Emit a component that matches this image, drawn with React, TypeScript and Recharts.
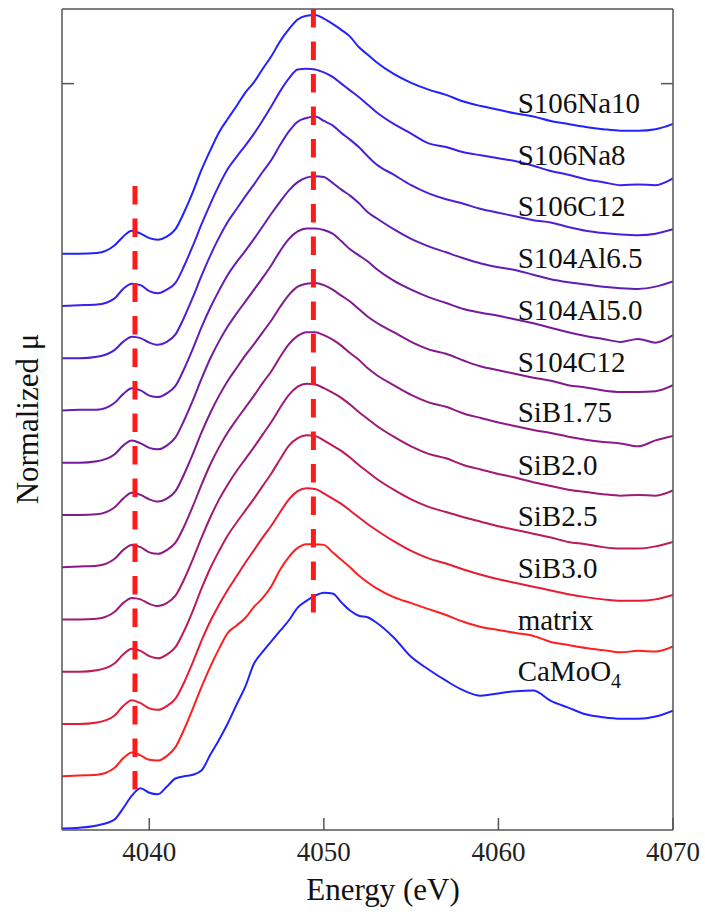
import React from 'react';
import { LineChart, Line, XAxis, YAxis, ReferenceLine, ReferenceDot } from 'recharts';

// Photon energy grid (eV)
const energy = [4035, 4036, 4037, 4038, 4038.5, 4039, 4039.5, 4040, 4040.5, 4041, 4041.5, 4042, 4042.5, 4043, 4043.5, 4044, 4044.5, 4045, 4045.5, 4046, 4046.5, 4047, 4047.5, 4048, 4048.5, 4049, 4049.5, 4050, 4050.5, 4051, 4051.5, 4052, 4052.5, 4053, 4054, 4055, 4056, 4057, 4058, 4059, 4060, 4061, 4062, 4063, 4064, 4065, 4066, 4067, 4068, 4069, 4070];

const sampleNames = ['S106Na10', 'S106Na8', 'S106C12', 'S104Al6.5', 'S104Al5.0', 'S104C12', 'SiB1.75', 'SiB2.0', 'SiB2.5', 'SiB3.0', 'matrix', 'CaMoO4'];

// vertical stacking offsets
const offsets = [7.72, 7.02, 6.32, 5.62, 4.92, 4.22, 3.52, 2.82, 2.12, 1.42, 0.72, 0.02];

const muS106Na10 = [0.00, 0.00, 0.01, 0.11, 0.23, 0.31, 0.27, 0.21, 0.19, 0.23, 0.33, 0.56, 0.83, 1.13, 1.39, 1.63, 1.81, 1.98, 2.16, 2.30, 2.48, 2.65, 2.85, 3.01, 3.14, 3.19, 3.20, 3.15, 3.08, 3.00, 2.91, 2.77, 2.67, 2.57, 2.41, 2.29, 2.20, 2.13, 2.04, 1.98, 1.93, 1.88, 1.84, 1.78, 1.74, 1.70, 1.67, 1.65, 1.65, 1.67, 1.74];
const muS106Na8 = [0.00, 0.01, 0.02, 0.10, 0.23, 0.30, 0.28, 0.20, 0.17, 0.22, 0.31, 0.54, 0.81, 1.10, 1.37, 1.62, 1.84, 2.00, 2.15, 2.31, 2.49, 2.68, 2.88, 3.05, 3.17, 3.18, 3.17, 3.13, 3.07, 2.98, 2.89, 2.80, 2.70, 2.60, 2.44, 2.31, 2.18, 2.13, 2.06, 2.02, 1.98, 1.94, 1.88, 1.81, 1.76, 1.70, 1.66, 1.62, 1.63, 1.62, 1.71];
const muS106C12 = [0.00, 0.00, 0.02, 0.11, 0.22, 0.29, 0.27, 0.21, 0.18, 0.22, 0.32, 0.55, 0.82, 1.11, 1.38, 1.62, 1.83, 2.00, 2.17, 2.33, 2.50, 2.66, 2.86, 3.04, 3.17, 3.22, 3.24, 3.18, 3.12, 3.02, 2.93, 2.83, 2.71, 2.60, 2.46, 2.32, 2.21, 2.13, 2.07, 2.00, 1.95, 1.90, 1.85, 1.82, 1.76, 1.71, 1.68, 1.66, 1.65, 1.67, 1.73];
const muS104Al65 = [0.00, 0.01, 0.01, 0.10, 0.22, 0.30, 0.27, 0.20, 0.18, 0.23, 0.33, 0.56, 0.83, 1.12, 1.38, 1.61, 1.82, 1.99, 2.14, 2.30, 2.47, 2.64, 2.80, 2.95, 3.06, 3.12, 3.14, 3.13, 3.05, 2.96, 2.88, 2.78, 2.66, 2.58, 2.43, 2.30, 2.20, 2.12, 2.04, 1.97, 1.92, 1.88, 1.82, 1.76, 1.72, 1.69, 1.66, 1.64, 1.63, 1.66, 1.73];
const muS104Al50 = [0.00, 0.00, 0.02, 0.11, 0.23, 0.30, 0.26, 0.20, 0.18, 0.23, 0.34, 0.57, 0.84, 1.13, 1.40, 1.63, 1.83, 2.00, 2.16, 2.32, 2.48, 2.65, 2.84, 3.00, 3.10, 3.14, 3.14, 3.12, 3.07, 2.97, 2.86, 2.78, 2.70, 2.60, 2.44, 2.32, 2.22, 2.14, 2.06, 2.01, 1.97, 1.92, 1.87, 1.81, 1.75, 1.70, 1.66, 1.62, 1.66, 1.61, 1.71];
const muS104C12 = [0.00, 0.00, 0.01, 0.10, 0.22, 0.30, 0.27, 0.21, 0.18, 0.22, 0.32, 0.55, 0.82, 1.11, 1.37, 1.60, 1.80, 1.97, 2.14, 2.29, 2.45, 2.61, 2.79, 2.95, 3.06, 3.10, 3.11, 3.08, 3.02, 2.94, 2.86, 2.76, 2.66, 2.58, 2.45, 2.32, 2.22, 2.16, 2.07, 1.99, 1.94, 1.89, 1.84, 1.80, 1.74, 1.71, 1.67, 1.65, 1.65, 1.66, 1.74];
const muSiB175 = [0.00, 0.01, 0.02, 0.11, 0.23, 0.30, 0.27, 0.20, 0.18, 0.23, 0.33, 0.55, 0.82, 1.11, 1.38, 1.61, 1.81, 1.98, 2.14, 2.30, 2.47, 2.63, 2.82, 2.99, 3.10, 3.15, 3.15, 3.11, 3.05, 2.97, 2.87, 2.78, 2.67, 2.58, 2.44, 2.31, 2.21, 2.15, 2.06, 2.00, 1.94, 1.89, 1.84, 1.80, 1.75, 1.71, 1.68, 1.66, 1.62, 1.70, 1.76];
const muSiB20 = [0.00, 0.00, 0.01, 0.10, 0.22, 0.29, 0.27, 0.21, 0.18, 0.22, 0.32, 0.54, 0.81, 1.10, 1.37, 1.61, 1.81, 1.99, 2.15, 2.31, 2.48, 2.65, 2.84, 3.01, 3.12, 3.16, 3.15, 3.10, 3.04, 2.97, 2.88, 2.78, 2.69, 2.60, 2.45, 2.32, 2.22, 2.16, 2.07, 2.01, 1.95, 1.90, 1.84, 1.79, 1.74, 1.71, 1.68, 1.66, 1.67, 1.66, 1.73];
const muSiB25 = [0.00, 0.00, 0.02, 0.11, 0.23, 0.31, 0.28, 0.21, 0.18, 0.23, 0.33, 0.55, 0.82, 1.12, 1.39, 1.62, 1.83, 2.00, 2.16, 2.32, 2.49, 2.66, 2.85, 3.03, 3.13, 3.17, 3.16, 3.10, 3.03, 2.96, 2.87, 2.77, 2.68, 2.59, 2.44, 2.31, 2.21, 2.14, 2.07, 2.01, 1.95, 1.90, 1.85, 1.80, 1.74, 1.71, 1.67, 1.65, 1.65, 1.68, 1.74];
const muSiB30 = [0.00, 0.00, 0.02, 0.11, 0.24, 0.32, 0.28, 0.21, 0.19, 0.24, 0.34, 0.56, 0.83, 1.12, 1.38, 1.60, 1.80, 1.98, 2.16, 2.33, 2.50, 2.66, 2.84, 3.01, 3.12, 3.16, 3.15, 3.09, 3.02, 2.95, 2.86, 2.77, 2.68, 2.60, 2.45, 2.32, 2.22, 2.15, 2.07, 2.00, 1.94, 1.89, 1.84, 1.79, 1.74, 1.70, 1.67, 1.65, 1.65, 1.67, 1.73];
const muMatrix = [0.00, 0.01, 0.02, 0.11, 0.24, 0.32, 0.28, 0.22, 0.21, 0.27, 0.39, 0.63, 0.91, 1.20, 1.47, 1.71, 1.92, 2.02, 2.12, 2.27, 2.39, 2.55, 2.77, 2.94, 3.06, 3.11, 3.11, 3.10, 3.00, 2.90, 2.80, 2.69, 2.60, 2.52, 2.40, 2.32, 2.24, 2.16, 2.07, 2.00, 1.96, 1.92, 1.88, 1.80, 1.76, 1.72, 1.69, 1.66, 1.68, 1.67, 1.74];
const muCaMoO4 = [0.00, 0.01, 0.04, 0.12, 0.27, 0.44, 0.54, 0.48, 0.46, 0.56, 0.67, 0.70, 0.72, 0.78, 0.99, 1.19, 1.41, 1.66, 1.90, 2.21, 2.37, 2.51, 2.65, 2.79, 2.96, 3.05, 3.12, 3.16, 3.15, 3.03, 2.92, 2.85, 2.83, 2.76, 2.56, 2.30, 2.13, 1.98, 1.85, 1.78, 1.81, 1.84, 1.85, 1.71, 1.62, 1.53, 1.49, 1.47, 1.47, 1.50, 1.58];

const spectra = [muS106Na10, muS106Na8, muS106C12, muS104Al65, muS104Al50, muS104C12, muSiB175, muSiB20, muSiB25, muSiB30, muMatrix, muCaMoO4];

const colors = ['#2222ff', '#3a20ee', '#4e1fd6', '#621db9', '#731b9f', '#821a8e', '#901a84', '#a01a74', '#bd1a58', '#e61c34', '#ff1f1f', '#2222ff'];

const labelY = [9.61, 8.91, 8.22, 7.53, 6.83, 6.14, 5.46, 4.76, 4.07, 3.38, 2.68, 2.0];
const labelX = 4061.1;

const xTicks = [4040, 4050, 4060, 4070];
const topTicks = [4040, 4050, 4060];
const yTicks = [10];

const preEdgeE = 4039.18;
const mainPeakE = 4049.4;

const FONT = '"Liberation Serif", "Times New Roman", serif';
const AXIS = '#555';
const hiddenTick = { fill: 'none', fontSize: 1 };

export default function App() {
  const data = energy.map((e, i) => {
    const row: Record<string, number> = { e };
    spectra.forEach((s, k) => {
      row['s' + k] = +(s[i] + offsets[k]).toFixed(3);
    });
    return row;
  });

  return (
    <div style={{ position: 'absolute', left: 0, top: 0, width: 705, height: 915, background: '#fff' }}>
      <LineChart width={705} height={915} data={data} margin={{ top: 4, right: 20, bottom: 0, left: 22 }}>
        <XAxis
          dataKey="e"
          type="number"
          domain={[4035, 4070]}
          ticks={xTicks}
          height={85}
          tickSize={-12}
          tickMargin={24}
          stroke={AXIS}
          strokeWidth={1.5}
          tick={{ fontSize: 27, fill: '#222', fontFamily: FONT }}
          allowDataOverflow
        />
        <XAxis
          xAxisId="top"
          orientation="top"
          type="number"
          domain={[4035, 4070]}
          ticks={topTicks}
          height={5}
          tickSize={-12}
          tick={hiddenTick}
          stroke={AXIS}
          strokeWidth={1.5}
          allowDataOverflow
        />
        <YAxis
          type="number"
          domain={[0, 11]}
          ticks={yTicks}
          width={40}
          tickSize={-12}
          tick={hiddenTick}
          stroke={AXIS}
          strokeWidth={1.5}
          allowDataOverflow
        />
        <YAxis
          yAxisId="right"
          orientation="right"
          type="number"
          domain={[0, 11]}
          ticks={yTicks}
          width={12}
          tickSize={-12}
          tick={hiddenTick}
          stroke={AXIS}
          strokeWidth={1.5}
          allowDataOverflow
        />
        {spectra.map((_, k) => (
          <Line
            key={k}
            dataKey={'s' + k}
            name={sampleNames[k]}
            type="monotone"
            stroke={colors[k]}
            strokeWidth={2}
            dot={false}
            isAnimationActive={false}
          />
        ))}
        <ReferenceLine
          segment={[{ x: mainPeakE, y: 11 }, { x: mainPeakE, y: 2.91 }]}
          stroke="#ff1a1a"
          strokeWidth={5}
          strokeDasharray="18.5 14"
        />
        <ReferenceLine
          segment={[{ x: preEdgeE, y: 8.63 }, { x: preEdgeE, y: 0.51 }]}
          stroke="#ff1a1a"
          strokeWidth={5}
          strokeDasharray="18.5 14"
        />
        {sampleNames.map((name, k) => (
          <ReferenceDot
            key={'l' + k}
            x={labelX}
            y={labelY[k]}
            r={0}
            ifOverflow="visible"
            shape={(p: any) => (
              <text x={p.cx} y={p.cy} fontSize={29} fontFamily={FONT} fill="#111" textAnchor="start">
                {name === 'CaMoO4' ? (
                  <>
                    CaMoO<tspan fontSize={20} dy={7}>4</tspan>
                  </>
                ) : (
                  name
                )}
              </text>
            )}
          />
        ))}
        <text x={383} y={900} textAnchor="middle" fontSize={31} fontFamily={FONT} fill="#111">
          Energy (eV)
        </text>
        <text
          x={38}
          y={419}
          textAnchor="middle"
          fontSize={31}
          fontFamily={FONT}
          fill="#111"
          transform="rotate(-90, 38, 419)"
        >
          Normalized μ
        </text>
      </LineChart>
    </div>
  );
}
